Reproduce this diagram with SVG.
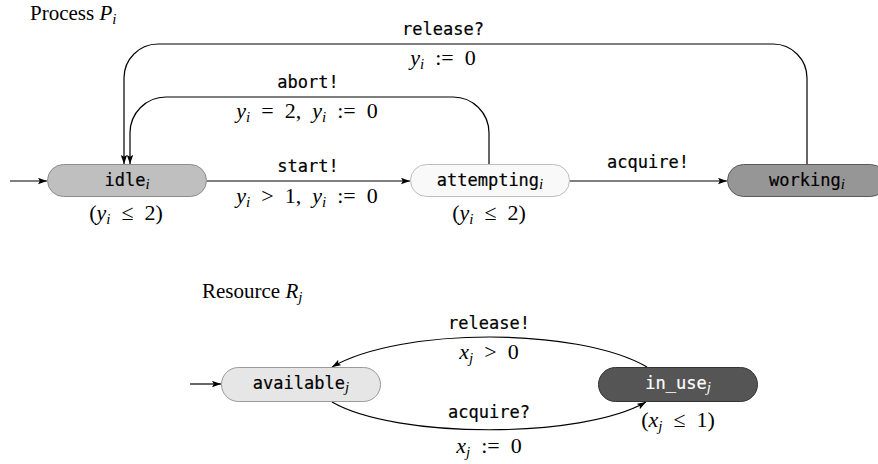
<svg xmlns="http://www.w3.org/2000/svg" width="878" height="464" viewBox="0 0 878 464">
<defs>
<marker id="ah" markerUnits="userSpaceOnUse" markerWidth="10" markerHeight="8" refX="9" refY="3.2" orient="auto">
<path d="M0,0 L9,3.2 L0,6.4 L1.8,3.2 z" fill="#000"/>
</marker>
<style>
.tt{font-family:"DejaVu Sans Mono","Liberation Mono",monospace;font-size:17px;text-anchor:middle;fill:#000;stroke:#000;stroke-width:0.2}
.wt{fill:#fff;stroke:#fff}
.m{font-family:"Liberation Serif","Times New Roman",serif;font-size:22px;text-anchor:middle;fill:#000;white-space:pre}
.v{font-style:italic}
.s{font-family:"Liberation Serif",serif;font-style:italic;font-size:15px;stroke:none}
.ti{font-family:"Liberation Serif",serif;font-size:21px;fill:#000}
.e{fill:none;stroke:#000;stroke-width:1.2;marker-end:url(#ah)}
.n{stroke-width:1}
</style>
</defs>
<rect width="878" height="464" fill="#fff"/>

<text class="ti" x="30" y="20">Process <tspan font-style="italic">P</tspan><tspan class="s" dy="4">i</tspan></text>
<text class="ti" x="202" y="298">Resource <tspan font-style="italic">R</tspan><tspan class="s" dy="4">j</tspan></text>

<g id="edges">
<path class="e" d="M10,181 H47"/>
<path class="e" d="M207,181 H410"/>
<path class="e" d="M569,181 H727"/>
<path class="e" d="M807,164 V78 A34,34 0 0 0 773,44 H158 A34,34 0 0 0 124,78 V164"/>
<path class="e" d="M489,164 V133 A36,36 0 0 0 453,97 H166 A36,36 0 0 0 130,133 V164"/>
<path class="e" d="M190,384 H221"/>
<path class="e" d="M647,367 C578,327 401,327 332,367"/>
<path class="e" d="M332,402 C396,439 582,439 646,402"/>
</g>

<g id="edge-labels">
<text class="tt" x="443" y="35">release?</text>
<text class="m" x="443" y="65"><tspan class="v">y</tspan><tspan class="s" dy="4">i</tspan><tspan dy="-4">  :=  0</tspan></text>
<text class="tt" x="308" y="88">abort!</text>
<text class="m" x="307" y="118"><tspan class="v">y</tspan><tspan class="s" dy="4">i</tspan><tspan dy="-4">  =  2,  </tspan><tspan class="v">y</tspan><tspan class="s" dy="4">i</tspan><tspan dy="-4">  :=  0</tspan></text>
<text class="tt" x="308" y="172">start!</text>
<text class="m" x="307" y="203"><tspan class="v">y</tspan><tspan class="s" dy="4">i</tspan><tspan dy="-4">  &gt;  1,  </tspan><tspan class="v">y</tspan><tspan class="s" dy="4">i</tspan><tspan dy="-4">  :=  0</tspan></text>
<text class="tt" x="648" y="168">acquire!</text>
<text class="tt" x="489" y="329">release!</text>
<text class="m" x="489" y="359"><tspan class="v">x</tspan><tspan class="s" dy="4">j</tspan><tspan dy="-4">  &gt;  0</tspan></text>
<text class="tt" x="489" y="418">acquire?</text>
<text class="m" x="489" y="453"><tspan class="v">x</tspan><tspan class="s" dy="4">j</tspan><tspan dy="-4">  :=  0</tspan></text>
</g>

<g id="idle">
<rect class="n" x="47.5" y="164.5" width="159" height="32" rx="16" fill="#bfbfbf" stroke="#8c8c8c"/>
<text class="tt" x="127" y="186">idle<tspan class="s" dy="3">i</tspan></text>
<text class="m" x="126" y="220">(<tspan class="v">y</tspan><tspan class="s" dy="4">i</tspan><tspan dy="-4">  ≤  2)</tspan></text>
</g>
<g id="attempting">
<rect class="n" x="410.5" y="164.5" width="159" height="32" rx="16" fill="#f9f9f9" stroke="#bdbdbd"/>
<text class="tt" x="490" y="186">attempting<tspan class="s" dy="3">i</tspan></text>
<text class="m" x="489" y="220">(<tspan class="v">y</tspan><tspan class="s" dy="4">i</tspan><tspan dy="-4">  ≤  2)</tspan></text>
</g>
<g id="working">
<rect class="n" x="727.5" y="164.5" width="159" height="32" rx="16" fill="#969696" stroke="#5a5a5a"/>
<text class="tt" x="807" y="186">working<tspan class="s" dy="3">i</tspan></text>
</g>
<g id="available">
<rect class="n" x="221.5" y="367.5" width="159" height="34" rx="17" fill="#e6e6e6" stroke="#9a9a9a"/>
<text class="tt" x="301" y="389">available<tspan class="s" dy="3">j</tspan></text>
</g>
<g id="in_use">
<rect class="n" x="598.5" y="367.5" width="159" height="34" rx="17" fill="#555555" stroke="#333333"/>
<text class="tt wt" x="678" y="389">in_use<tspan class="s" dy="3">j</tspan></text>
<text class="m" x="678" y="427">(<tspan class="v">x</tspan><tspan class="s" dy="4">j</tspan><tspan dy="-4">  ≤  1)</tspan></text>
</g>
</svg>
